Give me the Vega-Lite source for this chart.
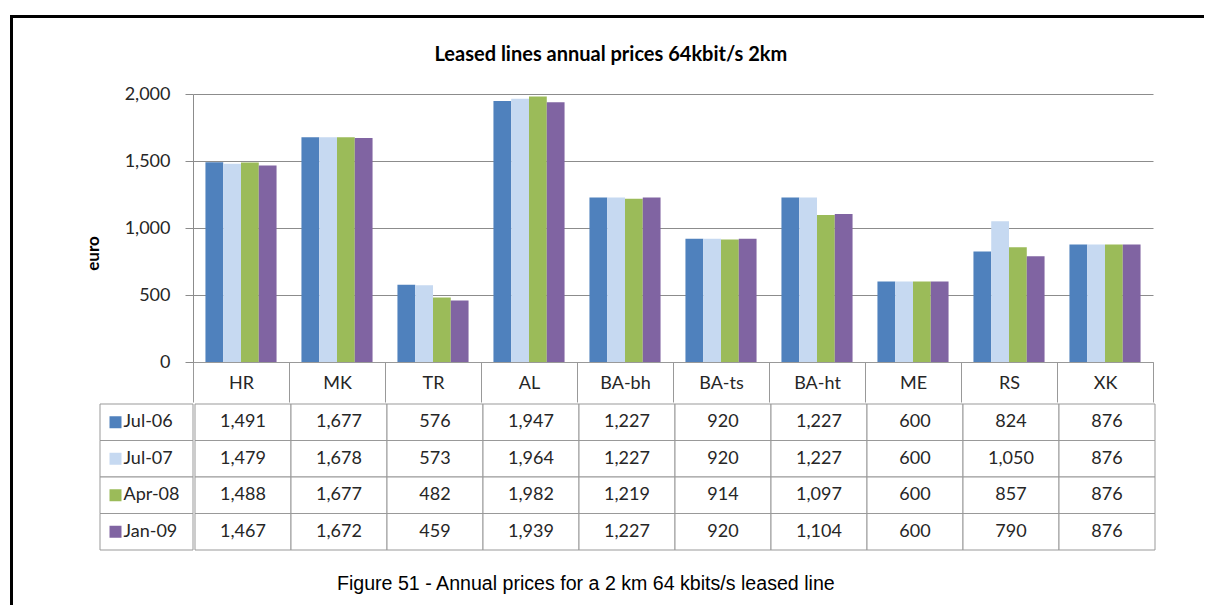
{
  "$schema": "https://vega.github.io/schema/vega-lite/v6.json",
  "padding": {"left": 10, "top": 15, "right": 0, "bottom": 0},
  "background": "white",
  "datasets": {
    "prices": [
      {"c": "HR", "s": "Jul-06", "v": 1491}, {"c": "HR", "s": "Jul-07", "v": 1479}, {"c": "HR", "s": "Apr-08", "v": 1488}, {"c": "HR", "s": "Jan-09", "v": 1467},
      {"c": "MK", "s": "Jul-06", "v": 1677}, {"c": "MK", "s": "Jul-07", "v": 1678}, {"c": "MK", "s": "Apr-08", "v": 1677}, {"c": "MK", "s": "Jan-09", "v": 1672},
      {"c": "TR", "s": "Jul-06", "v": 576}, {"c": "TR", "s": "Jul-07", "v": 573}, {"c": "TR", "s": "Apr-08", "v": 482}, {"c": "TR", "s": "Jan-09", "v": 459},
      {"c": "AL", "s": "Jul-06", "v": 1947}, {"c": "AL", "s": "Jul-07", "v": 1964}, {"c": "AL", "s": "Apr-08", "v": 1982}, {"c": "AL", "s": "Jan-09", "v": 1939},
      {"c": "BA-bh", "s": "Jul-06", "v": 1227}, {"c": "BA-bh", "s": "Jul-07", "v": 1227}, {"c": "BA-bh", "s": "Apr-08", "v": 1219}, {"c": "BA-bh", "s": "Jan-09", "v": 1227},
      {"c": "BA-ts", "s": "Jul-06", "v": 920}, {"c": "BA-ts", "s": "Jul-07", "v": 920}, {"c": "BA-ts", "s": "Apr-08", "v": 914}, {"c": "BA-ts", "s": "Jan-09", "v": 920},
      {"c": "BA-ht", "s": "Jul-06", "v": 1227}, {"c": "BA-ht", "s": "Jul-07", "v": 1227}, {"c": "BA-ht", "s": "Apr-08", "v": 1097}, {"c": "BA-ht", "s": "Jan-09", "v": 1104},
      {"c": "ME", "s": "Jul-06", "v": 600}, {"c": "ME", "s": "Jul-07", "v": 600}, {"c": "ME", "s": "Apr-08", "v": 600}, {"c": "ME", "s": "Jan-09", "v": 600},
      {"c": "RS", "s": "Jul-06", "v": 824}, {"c": "RS", "s": "Jul-07", "v": 1050}, {"c": "RS", "s": "Apr-08", "v": 857}, {"c": "RS", "s": "Jan-09", "v": 790},
      {"c": "XK", "s": "Jul-06", "v": 876}, {"c": "XK", "s": "Jul-07", "v": 876}, {"c": "XK", "s": "Apr-08", "v": 876}, {"c": "XK", "s": "Jan-09", "v": 876}
    ],
    "series": [{"s": "Jul-06"}, {"s": "Jul-07"}, {"s": "Apr-08"}, {"s": "Jan-09"}]
  },
  "spacing": 0,
  "vconcat": [
    {
      "width": 1192, "height": 1,
      "data": {"values": []},
      "mark": "point",
      "view": {"stroke": "#000000", "strokeWidth": 2}
    },
    {
      "spacing": 71,
      "hconcat": [
        {
          "width": 1, "height": 585,
          "data": {"values": []},
          "mark": "point",
          "view": {"stroke": "#000000", "strokeWidth": 2}
        },
        {
          "spacing": 0,
          "title": {
            "text": "Figure 51 - Annual prices for a 2 km 64 kbits/s leased line",
            "orient": "bottom", "anchor": "middle",
            "font": "Liberation Sans", "fontSize": 19.6, "fontWeight": "normal",
            "color": "#000000", "offset": 24, "dx": -34
          },
          "vconcat": [
            {"width": 1, "height": 26, "data": {"values": []}, "mark": "point"},
            {
              "spacing": 0,
              "bounds": "flush",
              "title": {
                "text": "Leased lines annual prices 64kbit/s 2km",
                "font": "Lato", "fontSize": 20, "fontWeight": "bold",
                "color": "#000000", "offset": 20, "anchor": "middle", "dx": -8
              },
              "hconcat": [
                {"width": 93, "height": 268, "data": {"values": []}, "mark": "point"},
                {
                  "width": 960, "height": 268,
                  "data": {"name": "prices"},
                  "mark": {"type": "bar"},
                  "encoding": {
                    "x": {
                      "field": "c", "type": "nominal",
                      "scale": {"domain": ["HR", "MK", "TR", "AL", "BA-bh", "BA-ts", "BA-ht", "ME", "RS", "XK"], "paddingInner": 0, "paddingOuter": 0},
                      "axis": {
                        "title": null, "labelAngle": 0, "tickBand": "extent", "tickSize": 40,
                        "tickColor": "#999999", "domainColor": "#999999", "labelPadding": -28,
                        "labelFont": "Lato", "labelFontSize": 18, "labelColor": "#262626", "labelBaseline": "top"
                      }
                    },
                    "xOffset": {
                      "field": "s", "type": "nominal",
                      "scale": {"domain": ["Jul-06", "Jul-07", "Apr-08", "Jan-09"], "paddingInner": 0, "paddingOuter": 0.7}
                    },
                    "y": {
                      "field": "v", "type": "quantitative",
                      "scale": {"domain": [0, 2000], "nice": false},
                      "axis": {
                        "title": "euro", "values": [0, 500, 1000, 1500, 2000], "format": ",.0f",
                        "grid": true, "gridColor": "#8c8c8c", "gridWidth": 1,
                        "domainColor": "#8c8c8c", "tickColor": "#8c8c8c", "tickSize": 8,
                        "labelPadding": 15, "labelFont": "Lato", "labelFontSize": 18, "labelColor": "#262626",
                        "titleFont": "Lato", "titleFontSize": 17, "titleFontWeight": "bold", "titleColor": "#000000",
                        "titlePadding": 22, "titleY": 159
                      }
                    },
                    "color": {
                      "field": "s", "type": "nominal",
                      "scale": {"domain": ["Jul-06", "Jul-07", "Apr-08", "Jan-09"], "range": ["#4F81BD", "#C6D9F1", "#9BBB59", "#8064A2"]},
                      "legend": null
                    }
                  }
                }
              ]
            },
            {
              "spacing": 0,
              "hconcat": [
                {
                  "width": 93, "height": 146,
                  "data": {"name": "series"},
                  "encoding": {
                    "y": {
                      "field": "s", "type": "nominal",
                      "scale": {"domain": ["Jul-06", "Jul-07", "Apr-08", "Jan-09"], "paddingInner": 0, "paddingOuter": 0},
                      "axis": null
                    }
                  },
                  "layer": [
                    {"mark": {"type": "rect", "fill": "white", "stroke": "#999999", "strokeWidth": 1}},
                    {
                      "mark": {"type": "point", "shape": "square", "filled": true, "size": 144, "opacity": 1, "xOffset": -31},
                      "encoding": {
                        "color": {
                          "field": "s", "type": "nominal",
                          "scale": {"domain": ["Jul-06", "Jul-07", "Apr-08", "Jan-09"], "range": ["#4F81BD", "#C6D9F1", "#9BBB59", "#8064A2"]},
                          "legend": null
                        }
                      }
                    },
                    {
                      "mark": {"type": "text", "align": "left", "xOffset": -23, "font": "Lato", "fontSize": 18, "color": "#262626"},
                      "encoding": {"text": {"field": "s", "type": "nominal"}}
                    }
                  ]
                },
                {
                  "width": 960, "height": 146,
                  "data": {"name": "prices"},
                  "encoding": {
                    "x": {
                      "field": "c", "type": "nominal",
                      "scale": {"domain": ["HR", "MK", "TR", "AL", "BA-bh", "BA-ts", "BA-ht", "ME", "RS", "XK"], "paddingInner": 0, "paddingOuter": 0},
                      "axis": null
                    },
                    "y": {
                      "field": "s", "type": "nominal",
                      "scale": {"domain": ["Jul-06", "Jul-07", "Apr-08", "Jan-09"], "paddingInner": 0, "paddingOuter": 0},
                      "axis": null
                    }
                  },
                  "layer": [
                    {"mark": {"type": "rect", "fill": "white", "stroke": "#999999", "strokeWidth": 1}},
                    {
                      "mark": {"type": "text", "font": "Lato", "fontSize": 18, "color": "#262626"},
                      "encoding": {"text": {"field": "v", "type": "quantitative", "format": ","}}
                    }
                  ]
                }
              ]
            }
          ]
        }
      ]
    }
  ],
  "config": {
    "font": "Lato",
    "view": {"stroke": null}
  }
}
